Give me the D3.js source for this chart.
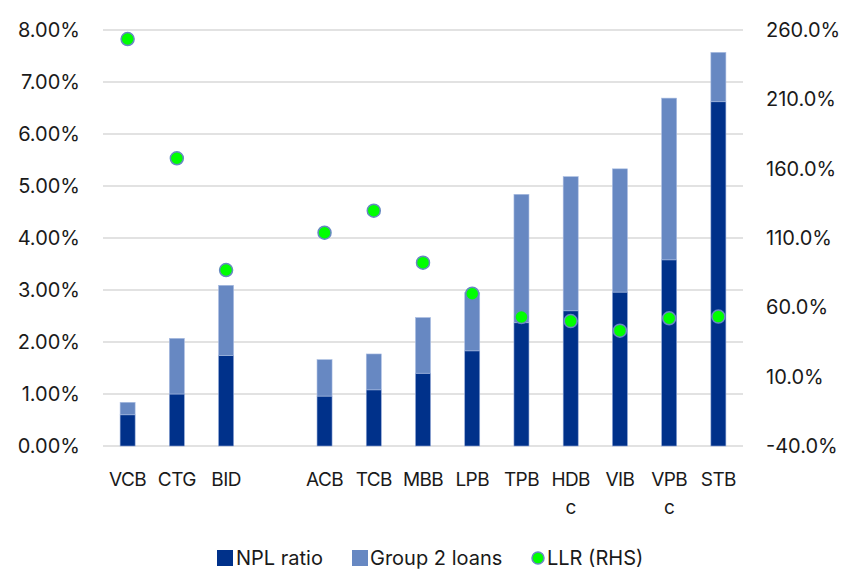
<!DOCTYPE html>
<html>
<head>
<meta charset="utf-8">
<script src="https://cdn.jsdelivr.net/npm/d3@7"></script>
<style>
  html, body { margin: 0; padding: 0; background: #fff; }
  svg { display: block; font-family: Inter, "Noto Sans", sans-serif; }
</style>
</head>
<body>
<svg id="chart" width="843" height="570"></svg>
<script>
// ---- data ----
const slots = ["VCB", "CTG", "BID", "_gap_", "ACB", "TCB", "MBB", "LPB", "TPB", "HDBc", "VIB", "VPBc", "STB"];
const categories = ["VCB", "CTG", "BID", "ACB", "TCB", "MBB", "LPB", "TPB", "HDBc", "VIB", "VPBc", "STB"];
const nplRatio = [0.60, 1.00, 1.74, 0.96, 1.08, 1.40, 1.83, 2.37, 2.60, 2.96, 3.58, 6.62];
const group2Loans = [0.24, 1.07, 1.35, 0.70, 0.69, 1.07, 1.12, 2.47, 2.58, 2.37, 3.11, 0.95];
const llr = [253.5, 167.5, 86.9, 113.8, 129.7, 92.2, 69.8, 53.0, 50.1, 43.2, 52.1, 53.3];
const leftTicks = [0, 1, 2, 3, 4, 5, 6, 7, 8];
const rightTicks = [-40, 10, 60, 110, 160, 210, 260];
const seriesNames = ["NPL ratio", "Group 2 loans", "LLR (RHS)"];

// ---- layout ----
const colors = { npl: "#00318A", g2: "#6788C2", dotFill: "#00FF00", dotStroke: "#6788C2", grid: "#D9D9D9", text: "#1a1a1a" };
const plot = { left: 103, right: 743, top: 30, bottom: 446 };
const svg = d3.select("#chart");
const fmt2 = d3.formatLocale({ decimal: ".", thousands: ",", grouping: [3], currency: ["", ""], minus: "-" });

const pIn = 0.695;
const x = d3.scaleBand().domain(slots).range([plot.left, plot.right]).paddingInner(pIn).paddingOuter(pIn / 2);
const yL = d3.scaleLinear().domain([0, 8]).range([plot.bottom, plot.top]);
const yR = d3.scaleLinear().domain([-40, 260]).range([plot.bottom, plot.top]);

// gridlines
svg.append("g").selectAll("line").data(leftTicks).join("line")
  .attr("x1", plot.left).attr("x2", plot.right)
  .attr("y1", d => yL(d)).attr("y2", d => yL(d))
  .attr("stroke", colors.grid).attr("stroke-width", 1.3);

// left axis
const leftAxis = svg.append("g").attr("transform", `translate(${plot.left},0)`)
  .call(d3.axisLeft(yL).tickValues(leftTicks).tickFormat(d => fmt2.format(".2f")(d) + "%").tickSize(0).tickPadding(23));
leftAxis.select(".domain").remove();
leftAxis.selectAll("text").attr("font-size", 20).attr("fill", colors.text).attr("font-family", "Inter, sans-serif");

// right axis
const rightAxis = svg.append("g").attr("transform", `translate(${plot.right},0)`)
  .call(d3.axisRight(yR).tickValues(rightTicks).tickFormat(d => fmt2.format(".1f")(d) + "%").tickSize(0).tickPadding(23));
rightAxis.select(".domain").remove();
rightAxis.selectAll("text").attr("font-size", 20).attr("fill", colors.text).attr("font-family", "Inter, sans-serif");

// data rows
const rows = categories.map((c, i) => ({ c, npl: nplRatio[i], g2: group2Loans[i], llr: llr[i] }));

// bars
const bars = svg.append("g");
bars.selectAll("rect.npl").data(rows).join("rect").attr("class", "npl")
  .attr("x", d => x(d.c)).attr("width", x.bandwidth())
  .attr("y", d => yL(d.npl)).attr("height", d => yL(0) - yL(d.npl))
  .attr("fill", colors.npl).attr("stroke", "#8FA6D6").attr("stroke-width", 0.6);
bars.selectAll("rect.g2").data(rows).join("rect").attr("class", "g2")
  .attr("x", d => x(d.c)).attr("width", x.bandwidth())
  .attr("y", d => yL(d.npl + d.g2)).attr("height", d => yL(d.npl) - yL(d.npl + d.g2))
  .attr("fill", colors.g2).attr("stroke", "#A9BCE2").attr("stroke-width", 0.6);

// LLR dots
svg.append("g").selectAll("circle").data(rows).join("circle")
  .attr("cx", d => x(d.c) + x.bandwidth() / 2).attr("cy", d => yR(d.llr))
  .attr("r", 6.5).attr("fill", colors.dotFill).attr("stroke", colors.dotStroke).attr("stroke-width", 1.5);

// category labels (wrap after 3 chars like the source)
const labels = svg.append("g").attr("font-size", 19).attr("fill", colors.text)
  .attr("font-family", "Inter, sans-serif").attr("text-anchor", "middle").attr("letter-spacing", -0.6);
rows.forEach(d => {
  const t = labels.append("text").attr("x", x(d.c) + x.bandwidth() / 2).attr("y", 486);
  const parts = d.c.length > 3 ? [d.c.slice(0, 3), d.c.slice(3)] : [d.c];
  parts.forEach((p, j) => t.append("tspan").attr("x", x(d.c) + x.bandwidth() / 2).attr("dy", j === 0 ? 0 : 28).text(p));
});

// legend
const lg = svg.append("g").attr("font-size", 20).attr("fill", colors.text).attr("font-family", "Inter, sans-serif");
lg.append("rect").attr("x", 217).attr("y", 550).attr("width", 16).attr("height", 16).attr("fill", colors.npl);
lg.append("text").attr("x", 236).attr("y", 565).text(seriesNames[0]);
lg.append("rect").attr("x", 352).attr("y", 550).attr("width", 16).attr("height", 16).attr("fill", colors.g2);
lg.append("text").attr("x", 370).attr("y", 565).text(seriesNames[1]);
lg.append("circle").attr("cx", 538).attr("cy", 558).attr("r", 6).attr("fill", colors.dotFill).attr("stroke", colors.dotStroke).attr("stroke-width", 1.5);
lg.append("text").attr("x", 547).attr("y", 565).text(seriesNames[2]);
</script>
</body>
</html>
